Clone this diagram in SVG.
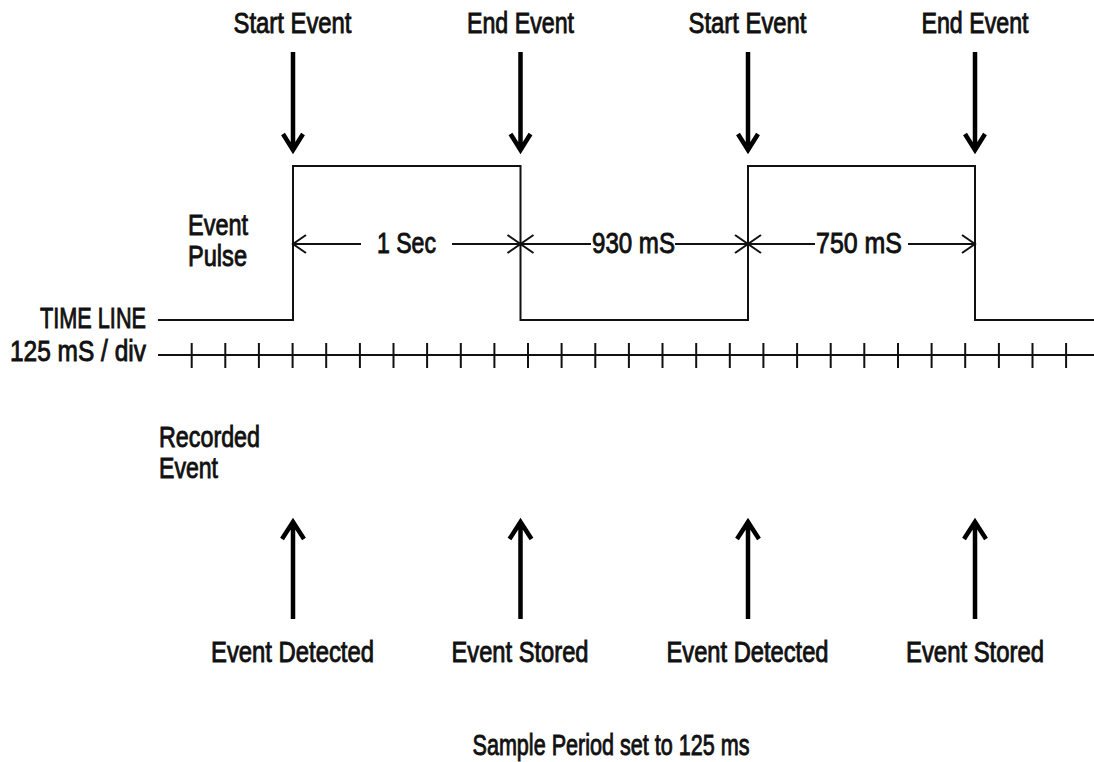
<svg xmlns="http://www.w3.org/2000/svg" width="1094" height="762" viewBox="0 0 1094 762">
<defs>
<style>
text{font-family:"Liberation Sans Narrow","Liberation Sans",Arial,sans-serif;font-size:29px;fill:#111;stroke:#111;stroke-width:0.9}
.m{text-anchor:middle}
.e{text-anchor:end}
.thick{stroke:#000;stroke-width:4.5;fill:none;stroke-linecap:butt}
.thin{stroke:#111;stroke-width:2;fill:none}
</style>
</defs>
<rect width="1094" height="762" fill="#fff"/>
<g id="top-labels">
<text class="m" x="292.5" y="33" textLength="118" lengthAdjust="spacingAndGlyphs">Start Event</text>
<text class="m" x="520.5" y="33" textLength="107" lengthAdjust="spacingAndGlyphs">End Event</text>
<text class="m" x="747.5" y="33" textLength="118" lengthAdjust="spacingAndGlyphs">Start Event</text>
<text class="m" x="975" y="33" textLength="107" lengthAdjust="spacingAndGlyphs">End Event</text>
</g>
<g id="left-labels">
<text x="188" y="235" textLength="60" lengthAdjust="spacingAndGlyphs">Event</text>
<text x="188" y="266" textLength="59" lengthAdjust="spacingAndGlyphs">Pulse</text>
<text class="e" x="146" y="328" textLength="106" lengthAdjust="spacingAndGlyphs">TIME LINE</text>
<text class="e" x="146" y="361" textLength="136" lengthAdjust="spacingAndGlyphs">125 mS / div</text>
<text x="159" y="447" textLength="101" lengthAdjust="spacingAndGlyphs">Recorded</text>
<text x="159" y="478" textLength="59" lengthAdjust="spacingAndGlyphs">Event</text>
</g>
<g id="pulse">
<polyline class="thin" points="158,320 293,320 293,166 520.5,166 520.5,320 748,320 748,166 975,166 975,320 1094,320"/>
</g>
<g id="timeline">
<line class="thin" x1="158" y1="355" x2="1094" y2="355"/>
<path class="thin" d="M191.7 343v25M225.3 343v25M258.9 343v25M292.6 343v25M326.2 343v25M359.9 343v25M393.5 343v25M427.1 343v25M460.8 343v25M494.4 343v25M528 343v25M561.6 343v25M595.3 343v25M628.9 343v25M662.5 343v25M696.2 343v25M729.8 343v25M763.4 343v25M797.1 343v25M830.7 343v25M864.3 343v25M898 343v25M931.6 343v25M965.2 343v25M998.9 343v25M1032.5 343v25M1066.1 343v25"/>
</g>
<g id="connectors">
<path class="thick" d="M293 52V150M283 134l10 16l10-16"/>
<path class="thick" d="M520.5 52V150M510.5 134l10 16l10-16"/>
<path class="thick" d="M748 52V150M738 134l10 16l10-16"/>
<path class="thick" d="M975 52V150M965 134l10 16l10-16"/>
<path class="thick" d="M293 619V522M282 539l11-17l11 17"/>
<path class="thick" d="M520.5 619V522M509.5 539l11-17l11 17"/>
<path class="thick" d="M748 619V522M737 539l11-17l11 17"/>
<path class="thick" d="M975 619V522M964 539l11-17l11 17"/>
<path class="thin" d="M293 244H361M306 235l-13 9l13 9"/>
<path class="thin" d="M452 244H520.5M507.5 235l13 9l-13 9"/>
<path class="thin" d="M520.5 244H591M533.5 235l-13 9l13 9"/>
<path class="thin" d="M675 244H748M735 235l13 9l-13 9"/>
<path class="thin" d="M748 244H815M761 235l-13 9l13 9"/>
<path class="thin" d="M908 244H975M962 235l13 9l-13 9"/>
</g>
<g id="dimension-labels">
<text x="377" y="253" textLength="59" lengthAdjust="spacingAndGlyphs">1 Sec</text>
<text x="592" y="253" textLength="83" lengthAdjust="spacingAndGlyphs">930 mS</text>
<text x="816" y="253" textLength="86" lengthAdjust="spacingAndGlyphs">750 mS</text>
</g>
<g id="bottom-labels">
<text class="m" x="292.5" y="662" textLength="163" lengthAdjust="spacingAndGlyphs">Event Detected</text>
<text class="m" x="520" y="662" textLength="137" lengthAdjust="spacingAndGlyphs">Event Stored</text>
<text class="m" x="747.5" y="662" textLength="162" lengthAdjust="spacingAndGlyphs">Event Detected</text>
<text class="m" x="975" y="662" textLength="138" lengthAdjust="spacingAndGlyphs">Event Stored</text>
<text class="m" x="611" y="755" textLength="277" lengthAdjust="spacingAndGlyphs">Sample Period set to 125 ms</text>
</g>
</svg>
